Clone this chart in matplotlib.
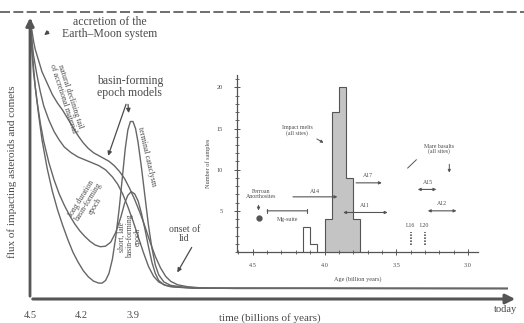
import matplotlib
matplotlib.use("Agg")
import matplotlib.pyplot as plt
from matplotlib.ticker import MultipleLocator
from matplotlib.lines import Line2D

plt.rcParams['font.family'] = ['Liberation Serif', 'DejaVu Serif']

INK = '#4a4a4a'
LINE = '#666666'

# ---- main panel: flux models (age in Ga, flux in arbitrary units 0-100)
natural_t = [4.495, 4.49, 4.48, 4.47, 4.45, 4.43, 4.40, 4.37, 4.34, 4.31, 4.28, 4.25, 4.22, 4.19, 4.16, 4.13,
             4.10, 4.07, 4.04, 4.01, 3.98, 3.95, 3.92, 3.89, 3.86, 3.83, 3.80, 3.77, 3.74, 3.71, 3.68, 3.64,
             3.58, 3.50, 3.3, 1.72]
natural_f = [98, 95, 91, 88, 84, 80, 76, 72, 69, 66.5, 63.5, 60.5, 57.5, 55, 53, 51.5,
             50.5, 49.5, 48.5, 47, 45, 42.5, 39, 35, 30.5, 25.5, 20, 15, 11, 8, 6.2, 5,
             4.3, 3.9, 3.7, 3.7]

cataclysm_t = [4.495, 4.49, 4.48, 4.47, 4.45, 4.43, 4.40, 4.37, 4.34, 4.31, 4.28, 4.25, 4.22, 4.19, 4.16, 4.13,
               4.10, 4.08, 4.06, 4.04, 4.02, 4.00, 3.98, 3.96, 3.945, 3.93, 3.915, 3.90, 3.885, 3.87, 3.85,
               3.83, 3.81, 3.79, 3.77, 3.75, 3.72, 3.68, 3.60, 3.45, 1.72]
cataclysm_f = [98, 90, 82, 75, 65, 56, 46, 38, 31.5, 26, 21, 16.5, 13, 10, 7.8, 6.3,
               5.6, 5.6, 6.5, 9, 14, 22, 32, 44, 53, 59.5, 62.5, 62.5, 60, 55, 46,
               36, 26, 18, 12, 8.5, 6, 4.8, 4.1, 3.8, 3.7]

short_t = [4.495, 4.49, 4.48, 4.46, 4.44, 4.42, 4.39, 4.36, 4.33, 4.30, 4.27, 4.24, 4.21, 4.18, 4.15, 4.12,
           4.09, 4.06, 4.03, 4.00, 3.97, 3.95, 3.93, 3.91, 3.89, 3.87, 3.85, 3.83, 3.81, 3.79, 3.77,
           3.75, 3.72, 3.68, 3.55, 1.72]
short_f = [98, 88, 80, 70, 62, 55.5, 48, 42, 37, 33, 29.5, 26.5, 24, 22, 20.3, 19,
           18.4, 18.6, 20, 23.5, 29, 33.5, 36.5, 37.8, 37, 34.5, 30, 24.5, 18.5, 13, 9,
           6.5, 5, 4.3, 3.8, 3.7]

long_t = [4.495, 4.49, 4.48, 4.46, 4.44, 4.42, 4.39, 4.36, 4.33, 4.30, 4.26, 4.22, 4.18, 4.14, 4.10, 4.06,
          4.02, 3.99, 3.96, 3.93, 3.90, 3.87, 3.84, 3.81, 3.78, 3.75, 3.71, 3.65, 3.50, 1.72]
long_f = [98, 92, 86, 79, 73, 68, 63, 59, 56, 53.5, 51.5, 50, 49, 48, 47, 45.5,
          43, 40.5, 37, 32.5, 27.5, 22, 16.5, 11.5, 8, 6, 4.8, 4.2, 3.8, 3.7]

time_ticks = [4.5, 4.2, 3.9]

# ---- inset: sample ages
melt_edges = [3.75, 3.80, 3.85, 3.90, 3.95, 4.00]
melt_counts = [4, 9, 20, 17, 4]
old_edges = [4.05, 4.10, 4.15]
old_counts = [1, 3]

ranges = {  # label: (older, younger, height, label_x, label_y, arrow)
    'A14': (4.22, 3.91, 6.7, 4.07, 7.3, '<|-'),
    'A17': (3.78, 3.60, 8.4, 3.70, 9.3, '<|-'),
    'A11': (3.87, 3.56, 4.8, 3.72, 5.6, '<|-|>'),
    'A15': (3.35, 3.22, 7.6, 3.28, 8.4, '<|-|>'),
    'A12': (3.28, 3.08, 5.0, 3.18, 5.9, '<|-|>'),
}
mg_suite = (4.40, 4.12, 5.0)
ferroan = (4.46, 4.1)
luna_ages = [3.40, 3.30]
luna_names = ['L16', 'L20']

fig = plt.figure(figsize=(5.24, 3.23), dpi=100)
fig.patch.set_facecolor('white')

ax = fig.add_axes([30 / 524, 24 / 323, 488 / 524, 284 / 323])
ax.set_xlim(4.5, 1.657)
ax.set_ylim(0, 100)
for s in ax.spines.values():
    s.set_visible(False)
ax.patch.set_alpha(0)

for t, f in [(natural_t, natural_f), (cataclysm_t, cataclysm_f), (short_t, short_f), (long_t, long_f)]:
    ax.plot(t, f, color=LINE, lw=1.0, solid_joinstyle='round')

# axes with arrows
ax.annotate('', xy=(0, 1.0), xytext=(0, 0), xycoords='axes fraction',
            arrowprops=dict(arrowstyle='-|>', color='#555555', lw=2, mutation_scale=12))
ax.annotate('', xy=(1.0, 0), xytext=(0, 0), xycoords='axes fraction',
            arrowprops=dict(arrowstyle='-|>', color='#555555', lw=2.2, mutation_scale=14))

ax.set_xticks(time_ticks)
ax.set_xticklabels([str(v) for v in time_ticks], fontsize=7.5, color=INK)
ax.tick_params(axis='x', length=0, pad=9)
ax.set_yticks([])

fig.text(270 / 524, 1 - 318 / 323, 'time (billions of years)', ha='center', va='center', fontsize=8, color=INK)
fig.text(505 / 524, 1 - 310 / 323, 'today', ha='center', va='center', fontsize=7.5, color=INK)
fig.text(12 / 524, 1 - 172 / 323, 'flux of impacting asteroids and comets', rotation=90,
         ha='center', va='center', fontsize=8, color=INK)

# top border of the scan
fig.add_artist(Line2D([0, 1], [1 - 12 / 323, 1 - 12 / 323], transform=fig.transFigure,
                      color='#555555', lw=1.2, ls=(0, (6, 2))))

ax.text(4.034, 95.5, 'accretion of the\nEarth\u2013Moon system', ha='center', va='center',
        fontsize=8.5, color=INK, linespacing=1.0)
ax.annotate('', xy=(4.43, 92.3), xytext=(4.38, 94.7),
            arrowprops=dict(arrowstyle='-|>', color=INK, lw=0.9, mutation_scale=6))

ax.text(3.918, 74.5, 'basin-forming\nepoch models', ha='center', va='center',
        fontsize=8.5, color=INK, linespacing=1.0)
ax.annotate('', xy=(3.924, 64.5), xytext=(3.93, 69.5),
            arrowprops=dict(arrowstyle='-|>', color=INK, lw=0.9, mutation_scale=6))
ax.annotate('', xy=(4.05, 49.5), xytext=(3.935, 69.5),
            arrowprops=dict(arrowstyle='-|>', color=INK, lw=0.9, mutation_scale=6))

ax.text(4.285, 71, 'natural declining tail\nof accretional material', rotation=-72,
        ha='center', va='center', fontsize=5.8, color=INK, linespacing=0.95)
ax.text(3.82, 50, 'terminal cataclysm', rotation=-77, ha='center', va='center',
        fontsize=5.8, color=INK)
ax.text(4.16, 34, 'long duration\nbasin-forming\nepoch', rotation=58, ha='center', va='center',
        fontsize=5.5, color=INK, linespacing=0.95)
ax.text(3.92, 22, 'short, late\nbasin-forming\nepoch', rotation=90, ha='center', va='center',
        fontsize=5.5, color=INK, linespacing=0.95)
ax.text(3.60, 23, 'onset of\nlid', ha='center', va='center', fontsize=7, color=INK, linespacing=0.95)
ax.annotate('', xy=(3.65, 8.5), xytext=(3.55, 19),
            arrowprops=dict(arrowstyle='-|>', color=INK, lw=0.9, mutation_scale=6))

# ---- inset
ax2 = fig.add_axes([237 / 524, 71 / 323, 241 / 524, 177 / 323])
ax2.patch.set_alpha(0)
ax2.set_xlim(4.61, 2.93)
ax2.set_ylim(0, 21.5)
for side in ['top', 'right']:
    ax2.spines[side].set_visible(False)
for side in ['left', 'bottom']:
    ax2.spines[side].set_color('#555555')
    ax2.spines[side].set_linewidth(0.9)
ax2.xaxis.set_major_locator(MultipleLocator(0.5))
ax2.xaxis.set_minor_locator(MultipleLocator(0.1))
ax2.yaxis.set_major_locator(MultipleLocator(5))
ax2.yaxis.set_minor_locator(MultipleLocator(1))
ax2.set_yticks([5, 10, 15, 20])
ax2.tick_params(which='both', direction='inout', color='#555555', labelsize=4.5, labelcolor=INK)
ax2.tick_params(which='major', length=4, width=0.7)
ax2.tick_params(which='minor', length=2.5, width=0.6)
ax2.tick_params(axis='x', pad=6)
ax2.tick_params(axis='y', pad=8)
ax2.set_xlabel('Age (billion years)', fontsize=4.5, color=INK, labelpad=6)
ax2.set_ylabel('Number of samples', fontsize=4.5, color=INK, labelpad=4)

ax2.stairs(melt_counts, melt_edges, fill=True, color='#c4c4c4')
ax2.stairs(melt_counts, melt_edges, baseline=0, color='#555555', lw=0.8)
ax2.stairs(old_counts, old_edges, baseline=0, color='#555555', lw=0.8)

for name, (a0, a1, h, lx, ly, style) in ranges.items():
    ax2.annotate('', xy=(a0, h), xytext=(a1, h),
                 arrowprops=dict(arrowstyle=style, color='#555555', lw=0.8, mutation_scale=4,
                                 shrinkA=0, shrinkB=0))
    ax2.text(lx, ly, name, ha='center', va='center', fontsize=4.2, color=INK)

ax2.annotate('', xy=(mg_suite[0], mg_suite[2]), xytext=(mg_suite[1], mg_suite[2]),
             arrowprops=dict(arrowstyle='|-|', color='#555555', lw=0.8, mutation_scale=1.5,
                             shrinkA=0, shrinkB=0))
ax2.text(4.26, 4.0, 'Mg-suite', ha='center', va='center', fontsize=4.2, color=INK)

ax2.plot([ferroan[0]], [ferroan[1]], 'o', color='#555555', ms=3.5)
ax2.text(4.44, 7.0, 'Ferroan\nAnorthosites', ha='center', va='center', fontsize=4.2,
         color=INK, linespacing=1.0)
ax2.annotate('', xy=(ferroan[0], ferroan[1] + 0.6), xytext=(ferroan[0], 6.0),
             arrowprops=dict(arrowstyle='-|>', color='#555555', lw=0.8, mutation_scale=4))

for age, nm in zip(luna_ages, luna_names):
    ax2.plot([age, age], [0.9, 2.4], color='#555555', lw=1.2, ls=(0, (1, 0.8)))
    ax2.text(age, 3.2, nm, ha='center', va='center', fontsize=4.2, color=INK)

ax2.text(4.19, 14.8, 'Impact melts\n(all sites)', ha='center', va='center', fontsize=4.2,
         color=INK, linespacing=1.0)
ax2.annotate('', xy=(3.99, 13.1), xytext=(4.07, 13.9),
             arrowprops=dict(arrowstyle='-|>', color='#555555', lw=0.7, mutation_scale=4))

ax2.text(3.20, 12.5, 'Mare basalts\n(all sites)', ha='center', va='center', fontsize=4.2,
         color=INK, linespacing=1.0)
ax2.plot([3.42, 3.36], [10.2, 11.2], color='#555555', lw=0.7)
ax2.annotate('', xy=(3.13, 9.3), xytext=(3.13, 11.0),
             arrowprops=dict(arrowstyle='-|>', color='#555555', lw=0.7, mutation_scale=4))

fig.savefig('out.png', dpi=100)
